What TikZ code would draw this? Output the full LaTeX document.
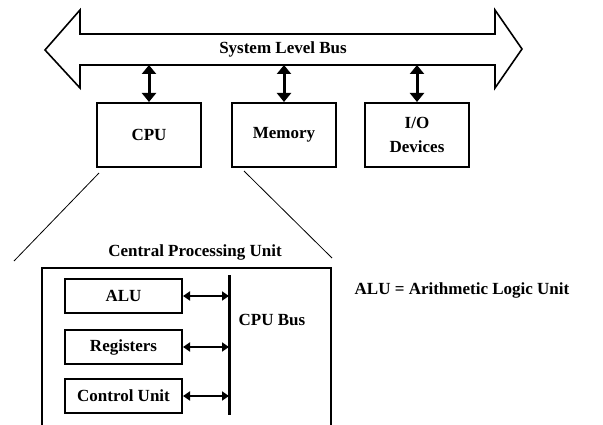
\documentclass[tikz,border=0pt]{standalone}
\usepackage{fontspec}
\setmainfont{Liberation Serif}
\usetikzlibrary{arrows.meta, positioning}

\begin{document}
\begin{tikzpicture}[x=1pt, y=-1pt, node distance=29pt, font=\fontsize{17}{20}\selectfont\bfseries]
    \tikzstyle{unit}=[rectangle, draw, line width=2pt, minimum width=104pt, minimum height=64pt, text centered]
    \tikzstyle{part}=[rectangle, draw, line width=2pt, minimum width=117pt, minimum height=34pt, inner sep=0pt]
    \tikzstyle{sysarrow}=[{Triangle[length=9pt,width=14pt]}-{Triangle[length=9pt,width=14pt]}, line width=3pt]
    \tikzstyle{cpuarrow}=[{Triangle[length=7pt,width=9pt]}-{Triangle[length=7pt,width=9pt]}, line width=1.8pt]

    \useasboundingbox (0,0) rectangle (603,425);

    % system level bus
    \draw[line width=1.6pt, line join=miter]
        (45,50) -- (80,10) -- (80,34) -- (495,34) -- (495,10) -- (522,49)
        -- (495,88) -- (495,65) -- (80,65) -- (80,88) -- cycle;
    \coordinate (busbot) at (80,65);
    \node (sysbus) at (283,49) {System Level Bus};

    \node[unit]      (cpu) at (149,135)        {CPU};
    \node[unit]      (mem) [right=of cpu]      {Memory};
    \node[unit, align=center, font=\fontsize{17}{24}\selectfont\bfseries]
                     (io)  [right=27pt of mem] {I/O\\Devices};

    \draw[sysarrow] (cpu.north) -- (cpu.north |- busbot);
    \draw[sysarrow] (mem.north) -- (mem.north |- busbot);
    \draw[sysarrow] (io.north)  -- (io.north |- busbot);

    % zoom into the cpu
    \coordinate (zl) at (14,261);
    \coordinate (zr) at (332,258);
    \draw[line width=0.8pt] ([shift={(3,5)}]cpu.south west) -- (zl);
    \draw[line width=0.8pt] ([shift={(42,3)}]cpu.south east) -- (zr);

    \node (cputitle) at (195,252) {Central Processing Unit};
    \draw[line width=2pt] (42,426) -- (42,268) -- (331,268) -- (331,426);

    \node[part] (alu) at (123.5,296)        {ALU};
    \node[part] (reg) [below=15pt of alu]   {Registers};
    \node[part] (ctl) [below=13pt of reg]   {Control Unit};

    % cpu bus
    \coordinate (cbt) at (229,275);
    \coordinate (cbb) at (229,415);
    \draw[line width=3pt] (cbt) -- (cbb);
    \node (cpubus) at (272,320) {CPU Bus};

    \draw[cpuarrow] (alu.east) -- (alu.east -| cbt);
    \draw[cpuarrow] (reg.east) -- (reg.east -| cbt);
    \draw[cpuarrow] (ctl.east) -- (ctl.east -| cbt);

    \node (note) at (462,290) {ALU = Arithmetic Logic Unit};

\end{tikzpicture}
\end{document}
